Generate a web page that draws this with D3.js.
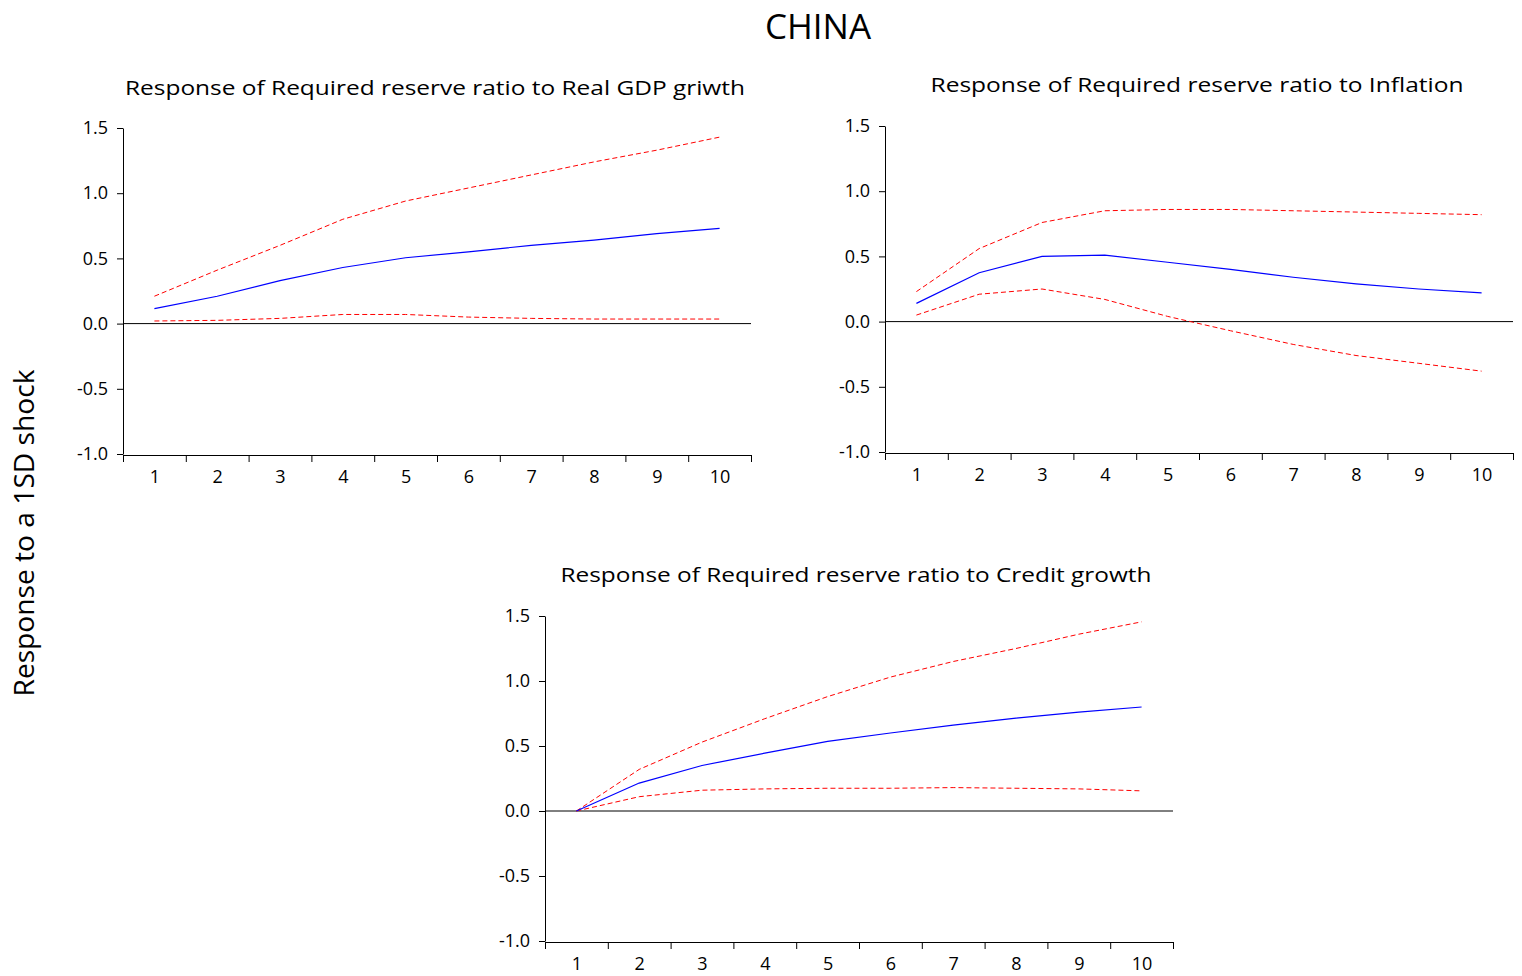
<!DOCTYPE html>
<html>
<head>
<meta charset="utf-8">
<script src="https://cdn.jsdelivr.net/npm/d3@7"></script>
<style>
  body { margin: 0; background: #fff; }
  svg text { font-family: "Open Sans", "Noto Sans", sans-serif; fill: #000; }
  .axis path, .axis line { stroke: #000; }
  .axis text { font-size: 18px; }
</style>
</head>
<body>
<div id="chart-container"></div>
<script>
// impulse response data (periods 1..10)
const periods = [1, 2, 3, 4, 5, 6, 7, 8, 9, 10];
const yTicks = [-1.0, -0.5, 0.0, 0.5, 1.0, 1.5];

const gdpResp  = [0.115, 0.21, 0.33, 0.43, 0.505, 0.55, 0.60, 0.64, 0.69, 0.73];
const gdpUpper = [0.21, 0.41, 0.60, 0.80, 0.94, 1.04, 1.14, 1.24, 1.33, 1.43];
const gdpLower = [0.02, 0.025, 0.04, 0.07, 0.07, 0.05, 0.04, 0.035, 0.035, 0.035];

const infResp  = [0.14, 0.375, 0.50, 0.51, 0.455, 0.40, 0.34, 0.29, 0.25, 0.22];
const infUpper = [0.23, 0.56, 0.76, 0.85, 0.86, 0.86, 0.85, 0.84, 0.83, 0.82];
const infLower = [0.05, 0.21, 0.25, 0.17, 0.04, -0.07, -0.175, -0.26, -0.32, -0.38];

const crdResp  = [0.0, 0.215, 0.35, 0.445, 0.535, 0.60, 0.66, 0.715, 0.76, 0.80];
const crdUpper = [0.0, 0.32, 0.53, 0.71, 0.88, 1.03, 1.15, 1.25, 1.36, 1.455];
const crdLower = [0.0, 0.11, 0.16, 0.17, 0.175, 0.175, 0.18, 0.175, 0.17, 0.155];

const titles = [
    "Response of Required reserve ratio to Real GDP griwth",
    "Response of Required reserve ratio to Inflation",
    "Response of Required reserve ratio to Credit growth"
];

const svgWidth = 1522;
const svgHeight = 976;

const svg = d3.select("#chart-container")
    .append("svg")
    .attr("width", svgWidth)
    .attr("height", svgHeight);

// panel placement: left edge of y axis, pixel of y=1.5, pixel of y=-1.0
const panels = [
    { left: 123, top: 128, bottom: 454, right: 751, title: titles[0], tx: 435, ty: 95, tw: 620,
      resp: gdpResp, up: gdpUpper, lo: gdpLower },
    { left: 885, top: 126, bottom: 452, right: 1513, title: titles[1], tx: 1197, ty: 92, tw: 533,
      resp: infResp, up: infUpper, lo: infLower },
    { left: 545, top: 616, bottom: 941, right: 1173, title: titles[2], tx: 856, ty: 582, tw: 591,
      resp: crdResp, up: crdUpper, lo: crdLower }
];

svg.append("text")
    .text("CHINA")
    .attr("x", 818)
    .attr("y", 39)
    .attr("text-anchor", "middle")
    .style("font-size", "35px");

svg.append("text")
    .text("Response to a 1SD shock")
    .attr("transform", "translate(34,533) rotate(-90)")
    .attr("text-anchor", "middle")
    .attr("textLength", 327)
    .attr("lengthAdjust", "spacingAndGlyphs")
    .style("font-size", "28px");

panels.forEach(p => {
    const g = svg.append("g");

    const x = d3.scaleLinear()
        .domain([0.5, 10.5])
        .range([p.left, p.right]);

    const y = d3.scaleLinear()
        .domain([-1.0, 1.5])
        .range([p.bottom, p.top]);

    // title
    g.append("text")
        .text(p.title)
        .attr("x", p.tx)
        .attr("y", p.ty)
        .attr("text-anchor", "middle")
        .attr("textLength", p.tw)
        .attr("lengthAdjust", "spacingAndGlyphs")
        .style("font-size", "20px");

    // y axis
    g.append("g")
        .attr("class", "axis")
        .attr("transform", `translate(${p.left},0)`)
        .call(d3.axisLeft(y).tickValues(yTicks).tickSizeInner(6).tickSizeOuter(0).tickPadding(9))
        .call(a => a.selectAll("text").text(d => d3.format(".1f")(d).replace("−", "-")));

    // x axis: ticks on boundaries, labels on period centres
    g.append("g")
        .attr("class", "axis")
        .attr("transform", `translate(0,${p.bottom + 1})`)
        .call(d3.axisBottom(x).tickValues(d3.range(0.5, 11, 1)).tickFormat("").tickSizeInner(7).tickSizeOuter(0));

    g.append("g")
        .attr("class", "axis")
        .attr("transform", `translate(0,${p.bottom + 1})`)
        .call(d3.axisBottom(x).tickValues(periods).tickFormat(d3.format("d")).tickSize(0).tickPadding(15))
        .call(a => a.select(".domain").remove());

    // zero line
    g.append("line")
        .attr("x1", x(0.5))
        .attr("x2", x(10.5))
        .attr("y1", y(0))
        .attr("y2", y(0))
        .attr("stroke", "#000")
        .attr("stroke-width", 1);

    const line = d3.line()
        .x((d, i) => x(periods[i]))
        .y(d => y(d));

    g.append("path")
        .datum(p.up)
        .attr("d", line)
        .attr("fill", "none")
        .attr("stroke", "#ff0000")
        .attr("stroke-width", 1)
        .attr("stroke-dasharray", "5,3");

    g.append("path")
        .datum(p.lo)
        .attr("d", line)
        .attr("fill", "none")
        .attr("stroke", "#ff0000")
        .attr("stroke-width", 1)
        .attr("stroke-dasharray", "5,3");

    g.append("path")
        .datum(p.resp)
        .attr("d", line)
        .attr("fill", "none")
        .attr("stroke", "#0000ff")
        .attr("stroke-width", 1.2);
});
</script>
</body>
</html>
